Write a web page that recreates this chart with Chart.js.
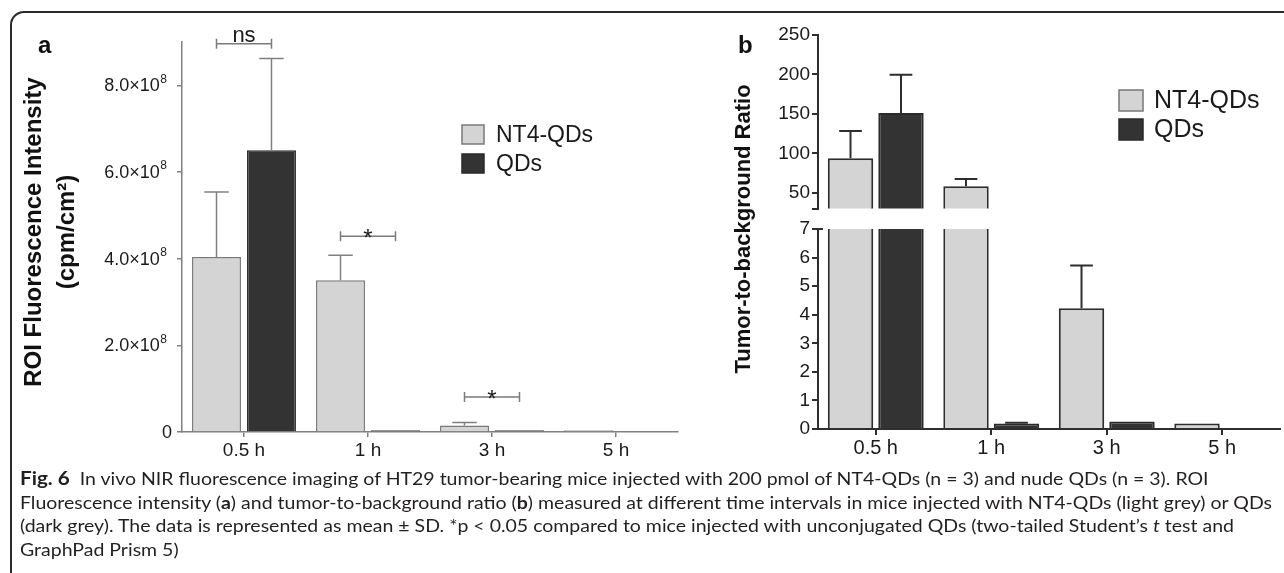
<!DOCTYPE html>
<html><head><meta charset="utf-8">
<script src="https://cdn.jsdelivr.net/npm/chart.js@4.4.1/dist/chart.umd.min.js"></script>
<style>
html,body{margin:0;padding:0;background:#fff;width:1284px;height:573px;overflow:hidden;position:relative;}
canvas{position:absolute;}
#frame{position:absolute;left:10px;top:11px;width:1400px;height:700px;border:2px solid #2a2a2a;border-top-left-radius:14px;box-sizing:border-box;}
#caption{position:absolute;left:20px;top:467px;font-family:Lato,'Open Sans',sans-serif;font-size:17px;color:#231f20;}
#caption div{white-space:nowrap;height:23.5px;line-height:23.5px;transform-origin:0 50%;}
#caption b.fig{font-size:18px;}
</style></head>
<body>
<div id="frame"></div>
<canvas id="ca" width="700" height="470" style="left:0;top:0"></canvas>
<canvas id="cb1" width="584" height="222" style="left:700px;top:0"></canvas>
<canvas id="cb2" width="584" height="470" style="left:700px;top:0"></canvas>
<div id="caption">
<div><span><b class="fig">Fig. 6</b>&nbsp; In vivo NIR fluorescence imaging of HT29 tumor-bearing mice injected with 200 pmol of NT4-QDs (n = 3) and nude QDs (n = 3). ROI</span></div>
<div><span>Fluorescence intensity (<b>a</b>) and tumor-to-background ratio (<b>b</b>) measured at different time intervals in mice injected with NT4-QDs (light grey) or QDs</span></div>
<div><span>(dark grey). The data is represented as mean ± SD. *p &lt; 0.05 compared to mice injected with unconjugated QDs (two-tailed Student’s <i>t</i> test and</span></div>
<div><span>GraphPad Prism 5)</span></div>
</div>
<script>
// ---------- data ----------
const categories = ['0.5 h', '1 h', '3 h', '5 h'];
const seriesNames = ['NT4-QDs', 'QDs'];

// panel a: ROI fluorescence intensity (cpm/cm2)
const roiNT4   = [4.04e8, 3.50e8, 0.15e8, 0.04e8];
const roiNT4SD = [1.50e8, 0.58e8, 0.07e8, 0];
const roiQDs   = [6.50e8, 0.04e8, 0.04e8, 0];
const roiQDsSD = [2.12e8, 0, 0, 0];
const roiTicks = [0, 2e8, 4e8, 6e8, 8e8];
const roiTickLabels = ['0', '2.0×10⁸', '4.0×10⁸', '6.0×10⁸', '8.0×10⁸'];
const roiSignif = [{cat: 0, value: 8.96e8, text: 'ns'}, {cat: 1, value: 4.52e8, text: '*'}, {cat: 2, value: 0.81e8, text: '*'}];

// panel b: tumor-to-background ratio (broken axis)
const tbrNT4   = [93.8, 58.4, 4.23, 0.19];
const tbrNT4SD = [34.6, 9.1, 1.49, 0];
const tbrQDs   = [151, 0.19, 0.26, 0];
const tbrQDsSD = [48.6, 0.03, 0, 0];
const tbrUpperTicks = [30, 50, 100, 150, 200, 250];
const tbrUpperLabels = ['', '50', '100', '150', '200', '250'];
const tbrLowerTicks = [0, 1, 2, 3, 4, 5, 6, 7];
const tbrLowerLabels = ['0', '1', '2', '3', '4', '5', '6', '7'];

// ---------- styles ----------
const LIGHT = '#d4d4d4', DARK = '#333333';
const FONT = '"Liberation Sans", Arial, Helvetica, sans-serif';

function fixedTicks(values) { return function (scale) { scale.ticks = values.map(v => ({value: v})); }; }

function errPlugin(sds, color, width) {
  return {id: 'err', afterDatasetsDraw(chart) {
    const ctx = chart.ctx, a = chart.chartArea, ys = chart.scales.y;
    ctx.save();
    ctx.beginPath(); ctx.rect(a.left - 30, a.top, a.right - a.left + 60, a.bottom - a.top); ctx.clip();
    ctx.strokeStyle = color; ctx.lineWidth = width;
    chart.data.datasets.forEach((ds, i) => {
      const meta = chart.getDatasetMeta(i);
      meta.data.forEach((el, j) => {
        const sd = sds[i][j]; if (!sd) return;
        const v = ds.data[j];
        const y0 = ys.getPixelForValue(v), y1 = ys.getPixelForValue(v + sd);
        const hw = el.width / 4;
        ctx.beginPath();
        ctx.moveTo(el.x, y0); ctx.lineTo(el.x, y1);
        ctx.moveTo(el.x - hw, y1); ctx.lineTo(el.x + hw, y1);
        ctx.stroke();
      });
    });
    ctx.restore();
  }};
}

function drawLegend(ctx, x, y, bw, bh, step, tx, size, items) {
  ctx.save();
  ctx.font = size + 'px ' + FONT;
  ctx.textBaseline = 'middle'; ctx.textAlign = 'left';
  items.forEach((it, i) => {
    const yy = y + i * step;
    ctx.fillStyle = it.fill; ctx.fillRect(x, yy, bw, bh);
    ctx.strokeStyle = it.stroke; ctx.lineWidth = 1.5; ctx.strokeRect(x, yy, bw, bh);
    ctx.fillStyle = '#1a1a1a'; ctx.fillText(it.text, tx, yy + bh / 2 + 1);
  });
  ctx.restore();
}

function rotText(ctx, text, x, y, font) {
  ctx.save(); ctx.translate(x, y); ctx.rotate(-Math.PI / 2);
  ctx.font = font; ctx.textAlign = 'center'; ctx.textBaseline = 'middle'; ctx.fillStyle = '#111';
  ctx.fillText(text, 0, 0); ctx.restore();
}

// ---------- panel a ----------
const decoA = {id: 'decoA', afterDraw(chart) {
  const ctx = chart.ctx, ys = chart.scales.y, a = chart.chartArea;
  ctx.save();
  ctx.fillStyle = '#111'; ctx.font = 'bold 24px ' + FONT; ctx.textBaseline = 'alphabetic'; ctx.textAlign = 'left';
  ctx.fillText('a', 38, 53);
  rotText(ctx, 'ROI Fluorescence Intensity', 34, 232, 'bold 24px ' + FONT);
  rotText(ctx, '(cpm/cm²)', 67, 232, 'bold 24px ' + FONT);
  // y tick labels with superscript exponent
  ctx.fillStyle = '#1a1a1a'; ctx.textAlign = 'right'; ctx.textBaseline = 'middle';
  roiTicks.forEach((v, i) => {
    const lab = roiTickLabels[i], y = ys.getPixelForValue(v);
    if (lab.endsWith('⁸')) {
      const base = lab.slice(0, -1);
      ctx.font = '12px ' + FONT;
      const sw = ctx.measureText('8').width;
      ctx.fillText('8', a.left - 15, y - 6);
      ctx.font = '18px ' + FONT;
      ctx.fillText(base, a.left - 15 - sw - 0.5, y + 1);
    } else {
      ctx.font = '18px ' + FONT;
      ctx.fillText(lab, a.left - 10, y + 1);
    }
  });
  // significance brackets
  const m0 = chart.getDatasetMeta(0), m1 = chart.getDatasetMeta(1);
  ctx.strokeStyle = '#7a7a7a'; ctx.lineWidth = 1.5; ctx.fillStyle = '#1a1a1a'; ctx.textAlign = 'center'; ctx.textBaseline = 'alphabetic';
  roiSignif.forEach(s => {
    const x1 = m0.data[s.cat].x, x2 = m1.data[s.cat].x, y = ys.getPixelForValue(s.value);
    ctx.beginPath();
    ctx.moveTo(x1, y); ctx.lineTo(x2, y);
    ctx.moveTo(x1, y - 5); ctx.lineTo(x1, y + 5);
    ctx.moveTo(x2, y - 5); ctx.lineTo(x2, y + 5);
    ctx.stroke();
    if (s.text === '*') { ctx.font = '24px ' + FONT; ctx.fillText(s.text, (x1 + x2) / 2, y + 10); }
    else { ctx.font = '22px ' + FONT; ctx.fillText(s.text, (x1 + x2) / 2, y - 2); }
  });
  drawLegend(ctx, 462, 125, 22, 19, 29, 496, 23, [
    {text: seriesNames[0], fill: LIGHT, stroke: '#7a7a7a'},
    {text: seriesNames[1], fill: DARK, stroke: '#2a2a2a'}]);
  ctx.restore();
}};

new Chart(document.getElementById('ca'), {
  type: 'bar',
  data: {labels: categories, datasets: [
    {label: seriesNames[0], data: roiNT4, backgroundColor: LIGHT, borderColor: '#7a7a7a', borderWidth: 1.5},
    {label: seriesNames[1], data: roiQDs, backgroundColor: DARK, borderColor: '#2a2a2a', borderWidth: 1.5}]},
  options: {
    responsive: false, animation: false, devicePixelRatio: 1,
    datasets: {bar: {categoryPercentage: 0.887, barPercentage: 0.89}},
    layout: {padding: {left: 0, right: 22, top: 42, bottom: 0}},
    plugins: {legend: {display: false}, tooltip: {enabled: false}},
    scales: {
      x: {offset: true,
        grid: {offset: false, drawOnChartArea: false, drawTicks: true, tickLength: 5, color: '#808080', lineWidth: 1.5},
        border: {color: '#808080', width: 1.5},
        ticks: {font: {family: FONT, size: 19}, color: '#1a1a1a', padding: 2, maxRotation: 0, autoSkip: false},
        afterFit(s) { s.height = 38; }},
      y: {min: 0, max: 9e8, afterBuildTicks: fixedTicks(roiTicks),
        grid: {drawOnChartArea: false, tickLength: 5, color: '#808080', lineWidth: 1.5},
        border: {color: '#808080', width: 1.5},
        ticks: {display: false},
        afterFit(s) { s.width = 182; }}
    }
  },
  plugins: [errPlugin([roiNT4SD, roiQDsSD], '#808080', 1.5), decoA]
});

// ---------- panel b ----------
function tbrDatasets() {
  return [
    {label: seriesNames[0], data: tbrNT4, backgroundColor: LIGHT, borderColor: '#2e2e2e', borderWidth: 2, clip: 0},
    {label: seriesNames[1], data: tbrQDs, backgroundColor: DARK, borderColor: '#2a2a2a', borderWidth: 2, clip: 0}];
}
const commonB = {
  responsive: false, animation: false, devicePixelRatio: 1,
  datasets: {bar: {categoryPercentage: 0.874, barPercentage: 0.9}},
  plugins: {legend: {display: false}, tooltip: {enabled: false}}
};

new Chart(document.getElementById('cb1'), {
  type: 'bar',
  data: {labels: categories, datasets: tbrDatasets()},
  options: Object.assign({}, commonB, {
    layout: {padding: {left: 0, right: 4, top: 35, bottom: 11}},
    scales: {
      x: {display: false, offset: true},
      y: {min: 30, max: 250, afterBuildTicks: fixedTicks(tbrUpperTicks),
        grid: {drawOnChartArea: false, tickLength: 6, color: '#2e2e2e', lineWidth: 2},
        border: {color: '#2e2e2e', width: 2},
        ticks: {font: {family: FONT, size: 19}, color: '#1a1a1a', padding: 2, autoSkip: false, callback: (v, i) => tbrUpperLabels[i]},
        afterFit(s) { s.width = 118; }}
    }
  }),
  plugins: [errPlugin([tbrNT4SD, tbrQDsSD], '#2e2e2e', 2)]
});

const decoB = {id: 'decoB', afterDraw(chart) {
  const ctx = chart.ctx, ys = chart.scales.y, a = chart.chartArea;
  ctx.save();
  ctx.fillStyle = '#111'; ctx.font = 'bold 24px ' + FONT; ctx.textBaseline = 'alphabetic';
  ctx.fillText('b', 38, 53);
  rotText(ctx, 'Tumor-to-background Ratio', 44, 229, 'bold 22px ' + FONT);
  ctx.strokeStyle = '#2e2e2e'; ctx.lineWidth = 2;
  const y7 = ys.getPixelForValue(7);
  ctx.beginPath(); ctx.moveTo(a.left, y7); ctx.lineTo(a.left + 5, y7); ctx.stroke();
  drawLegend(ctx, 419, 90, 24, 21, 29, 454, 25, [
    {text: seriesNames[0], fill: LIGHT, stroke: '#777'},
    {text: seriesNames[1], fill: DARK, stroke: '#2a2a2a'}]);
  ctx.restore();
}};

new Chart(document.getElementById('cb2'), {
  type: 'bar',
  data: {labels: categories, datasets: tbrDatasets()},
  options: Object.assign({}, commonB, {
    layout: {padding: {left: 0, right: 4, top: 229, bottom: 0}},
    scales: {
      x: {offset: true,
        grid: {offset: false, drawOnChartArea: false, drawTicks: true, tickLength: 6, color: '#2e2e2e', lineWidth: 2},
        border: {color: '#2e2e2e', width: 2},
        ticks: {font: {family: FONT, size: 20}, color: '#1a1a1a', padding: 1, maxRotation: 0, autoSkip: false},
        afterFit(s) { s.height = 41; }},
      y: {min: 0, max: 7, afterBuildTicks: fixedTicks(tbrLowerTicks),
        grid: {drawOnChartArea: false, tickLength: 6, color: '#2e2e2e', lineWidth: 2},
        border: {color: '#2e2e2e', width: 2},
        ticks: {font: {family: FONT, size: 19}, color: '#1a1a1a', padding: 2, autoSkip: false, callback: (v, i) => tbrLowerLabels[i]},
        afterFit(s) { s.width = 118; }}
    }
  }),
  plugins: [errPlugin([tbrNT4SD, tbrQDsSD], '#2e2e2e', 2), decoB]
});

// ---------- caption fitting (uniform horizontal scale from the longest line) ----------
function fitCaption() {
  const refEnd = 1272, left = 20;
  const lines = document.querySelectorAll('#caption div');
  lines.forEach(d => d.style.transform = 'none');
  const w = lines[1].querySelector('span').getBoundingClientRect().width;
  const sc = (refEnd - left) / w;
  lines.forEach(d => d.style.transform = 'scaleX(' + sc.toFixed(4) + ')');
}
fitCaption();
if (document.fonts && document.fonts.ready) document.fonts.ready.then(fitCaption);
</script>
</body></html>
